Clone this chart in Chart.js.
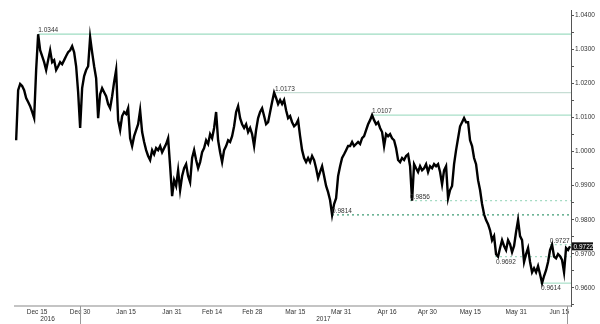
<!DOCTYPE html>
<html>
<head>
<meta charset="utf-8">
<script src="https://cdn.jsdelivr.net/npm/chart.js@4/dist/chart.umd.min.js"></script>
<style>
    html, body { margin: 0; padding: 0; background: #ffffff; }
    #wrap { width: 600px; height: 324px; position: relative; }
</style>
</head>
<body>
<div id="wrap"><canvas id="chart"></canvas></div>
<script>
// price samples (about 0.7 day apart, day 0 = Dec 15 2016)
var firstDay = -7.3;
var stepDays = 0.697;
var prices = [
    1.0033, 1.0180, 1.0198, 1.0192, 1.0180, 1.0157, 1.0145, 1.0133, 1.0116, 1.0098,
    1.0239, 1.0344, 1.0297, 1.0280, 1.0262, 1.0239, 1.0268, 1.0297, 1.0262, 1.0268,
    1.0239, 1.0250, 1.0262, 1.0256, 1.0268, 1.0280, 1.0291, 1.0297, 1.0309, 1.0291,
    1.0250, 1.0174, 1.0069, 1.0186, 1.0221, 1.0239, 1.0250, 1.0335, 1.0291, 1.0250,
    1.0215, 1.0098, 1.0168, 1.0186, 1.0174, 1.0162, 1.0139, 1.0127, 1.0162, 1.0204,
    1.0239, 1.0092, 1.0063, 1.0104, 1.0116, 1.0110, 1.0127, 1.0039, 1.0016, 1.0045,
    1.0063, 1.0080, 1.0121, 1.0057, 1.0028, 1.0004, 0.9987, 0.9975, 1.0004, 0.9992,
    1.0010, 1.0004, 1.0016, 0.9998, 1.0010, 1.0022, 1.0039, 0.9957, 0.9869, 0.9916,
    0.9899, 0.9945, 0.9887, 0.9928, 0.9951, 0.9963, 0.9928, 0.9910, 0.9981, 1.0004,
    0.9975, 0.9951, 0.9969, 0.9998, 1.0010, 1.0033, 1.0022, 1.0051, 1.0039, 1.0069,
    1.0116, 1.0033, 0.9998, 0.9969, 1.0004, 1.0016, 1.0033, 1.0028, 1.0045, 1.0074,
    1.0116, 1.0133, 1.0098, 1.0080, 1.0069, 1.0080, 1.0057, 1.0069, 1.0051, 1.0016,
    1.0063, 1.0098, 1.0116, 1.0127, 1.0104, 1.0080, 1.0086, 1.0116, 1.0145, 1.0173,
    1.0157, 1.0139, 1.0151, 1.0139, 1.0151, 1.0121, 1.0098, 1.0104, 1.0086, 1.0074,
    1.0080, 1.0092, 1.0045, 1.0004, 0.9981, 0.9969, 0.9981, 0.9969, 0.9987, 0.9975,
    0.9951, 0.9922, 0.9940, 0.9957, 0.9928, 0.9899, 0.9881, 0.9857, 0.9814, 0.9846,
    0.9863, 0.9928, 0.9957, 0.9981, 0.9992, 1.0004, 1.0016, 1.0016, 1.0028, 1.0016,
    1.0022, 1.0028, 1.0022, 1.0039, 1.0045, 1.0063, 1.0080, 1.0092, 1.0107, 1.0092,
    1.0080, 1.0086, 1.0069, 1.0057, 1.0016, 1.0051, 1.0045, 1.0051, 1.0039, 1.0033,
    1.0010, 0.9975, 0.9969, 0.9981, 0.9975, 0.9987, 0.9992, 0.9957, 0.9856, 0.9963,
    0.9951, 0.9940, 0.9957, 0.9945, 0.9951, 0.9963, 0.9940, 0.9957, 0.9951, 0.9963,
    0.9957, 0.9963, 0.9940, 0.9904, 0.9945, 0.9957, 0.9863, 0.9887, 0.9899, 0.9963,
    1.0004, 1.0039, 1.0074, 1.0086, 1.0098, 1.0086, 1.0086, 1.0033, 1.0016, 0.9981,
    0.9963, 0.9916, 0.9887, 0.9846, 0.9816, 0.9799, 0.9787, 0.9769, 0.9740, 0.9752,
    0.9699, 0.9692, 0.9717, 0.9740, 0.9723, 0.9711, 0.9740, 0.9728, 0.9705, 0.9723,
    0.9764, 0.9799, 0.9752, 0.9740, 0.9676, 0.9699, 0.9717, 0.9676, 0.9646, 0.9658,
    0.9646, 0.9664, 0.9640, 0.9614, 0.9635, 0.9652, 0.9676, 0.9711, 0.9727, 0.9692,
    0.9687, 0.9699, 0.9693, 0.9682, 0.9646, 0.9717, 0.9711, 0.9722
];
var lastPrice = 0.9722;

// marked highs / lows and the day each line starts
var levelValues = [1.0344, 1.0173, 1.0107, 0.9814, 0.9856, 0.9692, 0.9727, 0.9614];
var levelStartDays = [0.4, 82.9, 116.7, 102.8, 130.0, 159.6, 178.7, 175.3];

// x axis
var xTickDays = [0, 15, 31, 47, 61, 75, 90, 106, 122, 136, 151, 167, 182];
var xTickLabels = ['Dec 15', 'Dec 30', 'Jan 15', 'Jan 31', 'Feb 14', 'Feb 28', 'Mar 15',
    'Mar 31', 'Apr 16', 'Apr 30', 'May 15', 'May 31', 'Jun 15'];
var yearLabels = ['2016', '2017'];
var yearBreakDays = [15, 184.6];
var xMin = -7.7, xMax = 186.1;

// y axis
var yTicks = [0.96, 0.97, 0.98, 0.99, 1.00, 1.01, 1.02, 1.03, 1.04];
var yMin = 0.9547, yMax = 1.0415;

var FONT = '"Liberation Sans", Arial, sans-serif';

var pricePoints = prices.map(function(p, i) {
    return { x: firstDay + i * stepDays, y: p };
});

// line look for each level (same order as levelValues)
var levelLook = [
    { color: '#9edcc2', dash: [], below: false },
    { color: '#c6ddd4', dash: [], below: false },
    { color: '#a9dfc8', dash: [], below: false },
    { color: '#3f9c74', dash: [2, 3], below: false },
    { color: '#a4dbc3', dash: [2, 3], below: false },
    { color: '#a4dbc3', dash: [2, 3], below: true },
    { color: '#a4dbc3', dash: [2, 3], below: false },
    { color: '#a9dfc8', dash: [], below: true }
];

var datasets = [{
    data: pricePoints,
    borderColor: '#000000',
    borderWidth: 2.4,
    borderJoinStyle: 'miter',
    pointRadius: 0,
    tension: 0,
    order: 0
}];
levelValues.forEach(function(v, i) {
    datasets.push({
        data: [{ x: levelStartDays[i], y: v }, { x: xMax, y: v }],
        borderColor: levelLook[i].color,
        borderDash: levelLook[i].dash,
        borderWidth: 1.2,
        pointRadius: 0,
        order: 1
    });
});

var extras = {
    id: 'extras',
    afterDatasetsDraw: function(chart) {
        var ctx = chart.ctx;
        var xs = chart.scales.x;
        var ys = chart.scales.y;
        var area = chart.chartArea;
        ctx.save();

        // level labels
        ctx.font = '6.5px ' + FONT;
        ctx.fillStyle = '#333333';
        ctx.textAlign = 'left';
        levelValues.forEach(function(v, i) {
            var px = xs.getPixelForValue(levelStartDays[i]);
            var py = ys.getPixelForValue(v);
            if (levelLook[i].below) {
                ctx.textBaseline = 'top';
                ctx.fillText(v.toFixed(4), px + 1, py + 2);
            } else {
                ctx.textBaseline = 'bottom';
                ctx.fillText(v.toFixed(4), px, py - 0.5);
            }
        });

        // year separators and labels
        ctx.strokeStyle = '#999999';
        ctx.lineWidth = 1;
        yearBreakDays.forEach(function(d) {
            var px = Math.round(xs.getPixelForValue(d)) + 0.5;
            ctx.beginPath();
            ctx.moveTo(px, area.bottom);
            ctx.lineTo(px, chart.height);
            ctx.stroke();
        });
        ctx.fillStyle = '#333333';
        ctx.textAlign = 'center';
        ctx.textBaseline = 'middle';
        var edges = [area.left, xs.getPixelForValue(yearBreakDays[0]), xs.getPixelForValue(yearBreakDays[1])];
        yearLabels.forEach(function(t, i) {
            ctx.fillText(t, (edges[i] + edges[i + 1]) / 2, area.bottom + 13);
        });

        // last price box
        var ly = ys.getPixelForValue(lastPrice);
        ctx.fillStyle = '#111111';
        ctx.fillRect(area.right + 1, ly - 4, 21, 8);
        ctx.fillStyle = '#ffffff';
        ctx.textAlign = 'left';
        ctx.fillText(lastPrice.toFixed(4), area.right + 2.5, ly + 0.5);
        ctx.restore();
    }
};

var ctx = document.getElementById('chart').getContext('2d');
var chart = new Chart(ctx, {
    type: 'line',
    data: { datasets: datasets },
    plugins: [extras],
    options: {
        responsive: true,
        maintainAspectRatio: false,
        animation: false,
        layout: { padding: { left: 15, top: 10, right: 0, bottom: 0 } },
        plugins: {
            legend: { display: false },
            tooltip: { enabled: false }
        },
        scales: {
            x: {
                type: 'linear',
                min: xMin,
                max: xMax,
                afterFit: function(scale) { scale.height = 18; },
                afterBuildTicks: function(scale) {
                    scale.ticks = xTickDays.map(function(d) { return { value: d }; });
                },
                border: { display: true, color: '#c4c4c4', width: 2 },
                grid: { display: true, drawOnChartArea: false, drawTicks: false },
                ticks: {
                    autoSkip: false,
                    maxRotation: 0,
                    padding: 2,
                    color: '#333333',
                    font: { family: FONT, size: 6.5 },
                    callback: function(value) {
                        var i = xTickDays.indexOf(value);
                        return i >= 0 ? xTickLabels[i] : '';
                    }
                }
            },
            y: {
                type: 'linear',
                position: 'right',
                min: yMin,
                max: yMax,
                afterFit: function(scale) { scale.width = 29; },
                afterBuildTicks: function(scale) {
                    var t = [];
                    yTicks.forEach(function(v) {
                        t.push({ value: v });
                        t.push({ value: Math.round((v - 0.005) * 10000) / 10000 });
                    });
                    scale.ticks = t.sort(function(a, b) { return a.value - b.value; });
                },
                border: { display: true, color: '#555555', width: 1 },
                grid: { display: true, drawOnChartArea: false, drawTicks: true, tickLength: 3, color: '#555555' },
                ticks: {
                    padding: 1,
                    color: '#333333',
                    font: { family: FONT, size: 6.5 },
                    callback: function(value) {
                        for (var i = 0; i < yTicks.length; i++) {
                            if (Math.abs(yTicks[i] - value) < 1e-6) return value.toFixed(4);
                        }
                        return '';
                    }
                }
            }
        }
    }
});
</script>
</body>
</html>
